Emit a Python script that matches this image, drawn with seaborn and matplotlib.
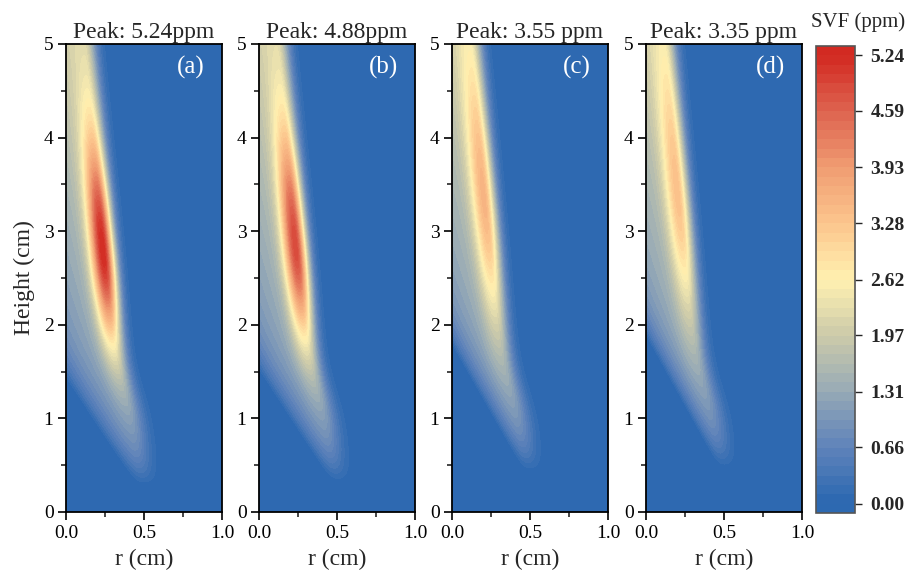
import numpy as np
import matplotlib
matplotlib.use("Agg")
import matplotlib.pyplot as plt
from matplotlib.colors import LinearSegmentedColormap
import seaborn as sns

# ---- data ----
panel_tags = ["(a)", "(b)", "(c)", "(d)"]
panel_titles = ["Peak: 5.24ppm", "Peak: 4.88ppm", "Peak: 3.55 ppm", "Peak: 3.35 ppm"]
peak_values = [5.24, 4.88, 3.55, 3.35]          # ppm
peak_heights = [2.75, 2.80, 3.25, 3.30]         # cm
upper_spread = [0.90, 0.92, 1.07, 1.07]         # cm, core decay above the peak
lower_spread = [0.68, 0.70, 0.90, 0.87]         # cm, core decay below the peak
edge_at_axis = [1.41, 1.50, 1.77, 1.87]         # cm, height where the plume meets r = 0
edge_slope = [2.50, 2.55, 2.90, 3.00]           # cm per cm, slope of the lower-left plume edge
tail_tip = [0.27, 0.30, 0.42, 0.45]             # cm, bottom end of the plume tail
cbar_ticks = [0.00, 0.66, 1.31, 1.97, 2.62, 3.28, 3.93, 4.59, 5.24]
cbar_colors = ["#2d69b1", "#5f83ba", "#97aab6", "#cdcbaa", "#fff0b0",
               "#fcc68d", "#f09c72", "#de634f", "#d22a22"]

r = np.linspace(0, 1, 400)
z = np.linspace(0, 5, 700)
R, Z = np.meshgrid(r, z)


def plume(P, z0, s_up, s_dn, zb, kb, ztip):
    low = 1 / (1 + np.exp((Z - 1.3) / 0.2))
    rc = 0.30 - 0.057 * (Z - 1.68) + 0.075 * low
    d = R - rc
    base_f = lambda zz: 0.9 + 0.24 * zz
    base = base_f(Z) * (1 - np.exp(-np.clip(Z - ztip, 0, None) / 0.15))
    u = np.clip(Z - (zb - kb * R), 0, None)
    f_left = 1 - np.exp(-u / 0.25)
    wr = 0.055 + 0.015 * low
    side = np.where(d < 0, np.exp(-0.5 * (d / 0.38) ** 2), np.exp(-0.5 * (d / wr) ** 2))
    env = base * f_left * side
    g = np.where(Z >= z0, np.exp(-0.5 * ((Z - z0) / s_up) ** 2),
                 np.exp(-0.5 * ((Z - z0) / s_dn) ** 2))
    amp = P - base_f(z0)
    core = amp * g * np.where(d < 0, np.exp(-0.5 * (d / 0.055) ** 2), np.exp(-0.5 * (d / 0.05) ** 2))
    F = core + env
    return F * P / F.max()


sns.set_theme(style="ticks")
plt.rcParams["font.family"] = ["Liberation Serif", "DejaVu Serif"]

step = 5.24 / 48
levels = np.arange(-1, 50) * step
vmin, vmax = levels[0], levels[-1]
anchors = [(0.0, cbar_colors[0]), ((0.03 - vmin) / (vmax - vmin), cbar_colors[0])]
for t, c in zip(cbar_ticks[1:], cbar_colors[1:]):
    anchors.append(((t - vmin) / (vmax - vmin), c))
anchors.append((1.0, cbar_colors[-1]))
cmap = LinearSegmentedColormap.from_list("svf", anchors)

fig = plt.figure(figsize=(9.21, 5.77), dpi=100)
ax_w, ax_h, ax_b = 156 / 921, 468 / 577, 1 - 512 / 577
lefts = [66, 259, 452, 646]
cs = None
for i in range(4):
    ax = fig.add_axes([lefts[i] / 921, ax_b, ax_w, ax_h])
    F = plume(peak_values[i], peak_heights[i], upper_spread[i], lower_spread[i],
              edge_at_axis[i], edge_slope[i], tail_tip[i])
    cs = ax.contourf(R, Z, F, levels=levels, cmap=cmap, vmin=vmin, vmax=vmax)
    ax.set_xlim(0, 1)
    ax.set_ylim(0, 5)
    ax.set_xticks([0, 0.5, 1.0])
    ax.set_xticklabels(["0.0", "0.5", "1.0"])
    ax.set_xticks([0.25, 0.75], minor=True)
    ax.set_yticks([0, 1, 2, 3, 4, 5])
    ax.set_yticks(np.arange(0.5, 5, 1.0), minor=True)
    ax.tick_params(which="major", direction="out", length=6, width=1.2, labelsize=14, pad=3,
                   colors="black")
    ax.tick_params(which="minor", direction="out", length=3.5, width=1.2)
    for sp in ax.spines.values():
        sp.set_linewidth(1.3)
        sp.set_color("black")
    ax.set_title(panel_titles[i], fontsize=17, pad=4)
    ax.text(0.80, 0.95, panel_tags[i], transform=ax.transAxes, color="white",
            fontsize=18, ha="center", va="center")
    ax.set_xlabel("r (cm)", fontsize=17, labelpad=5)
    if i == 0:
        ax.set_ylabel("Height (cm)", fontsize=17, labelpad=6)

cax = fig.add_axes([816 / 921, 1 - 513 / 577, 39 / 921, 467 / 577])
cb = fig.colorbar(cs, cax=cax, ticks=cbar_ticks)
cb.ax.set_yticklabels([f"{t:.2f}" for t in cbar_ticks], fontweight="bold", fontsize=14)
cb.ax.tick_params(length=5, width=1.0, direction="out", pad=6)
cb.outline.set_edgecolor("#555555")
cb.outline.set_linewidth(1.2)
fig.text(858 / 921, 1 - 22 / 577, "SVF (ppm)", fontsize=15, ha="center", va="center")

fig.savefig("out.png", dpi=100)
